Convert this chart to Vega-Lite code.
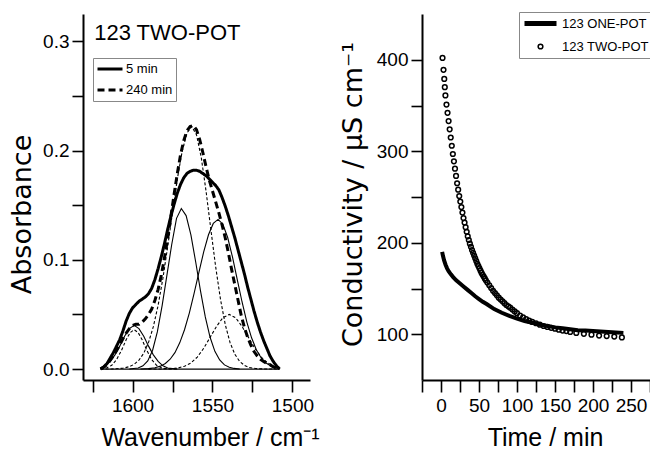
{
  "$schema": "https://vega.github.io/schema/vega-lite/v6.json",
  "background": "white",
  "padding": {"left": 8, "top": 11, "right": 0, "bottom": 0},
  "spacing": 112,
  "bounds": "flush",
  "config": {
    "view": {"stroke": null},
    "axis": {"grid": false, "domainColor": "black", "domainWidth": 2, "tickColor": "black", "tickWidth": 1.6, "labelColor": "black", "titleColor": "black", "labelFont": "Liberation Sans, Arial", "labelFontSize": 19, "titleFontWeight": "normal", "labelFlush": false, "labelOverlap": false},
    "legend": {"labelColor": "black", "labelFont": "Liberation Sans, Arial"}
  },
  "datasets": {
    "env": [
      {"t":"5 min","w":1620,"a":0},{"t":"5 min","w":1618,"a":0.002},{"t":"5 min","w":1616,"a":0.005},{"t":"5 min","w":1614,"a":0.010},{"t":"5 min","w":1612,"a":0.015},{"t":"5 min","w":1610,"a":0.021},{"t":"5 min","w":1608,"a":0.027},{"t":"5 min","w":1606,"a":0.035},{"t":"5 min","w":1604,"a":0.044},{"t":"5 min","w":1602,"a":0.051},{"t":"5 min","w":1600,"a":0.056},{"t":"5 min","w":1598,"a":0.059},{"t":"5 min","w":1596,"a":0.062},{"t":"5 min","w":1594,"a":0.064},{"t":"5 min","w":1592,"a":0.066},{"t":"5 min","w":1590,"a":0.069},{"t":"5 min","w":1588,"a":0.074},{"t":"5 min","w":1586,"a":0.082},{"t":"5 min","w":1584,"a":0.092},{"t":"5 min","w":1582,"a":0.103},{"t":"5 min","w":1580,"a":0.115},{"t":"5 min","w":1578,"a":0.128},{"t":"5 min","w":1576,"a":0.140},{"t":"5 min","w":1574,"a":0.151},{"t":"5 min","w":1572,"a":0.161},{"t":"5 min","w":1570,"a":0.169},{"t":"5 min","w":1568,"a":0.175},{"t":"5 min","w":1566,"a":0.179},{"t":"5 min","w":1564,"a":0.181},{"t":"5 min","w":1562,"a":0.182},{"t":"5 min","w":1560,"a":0.182},{"t":"5 min","w":1558,"a":0.181},{"t":"5 min","w":1556,"a":0.179},{"t":"5 min","w":1554,"a":0.177},{"t":"5 min","w":1552,"a":0.174},{"t":"5 min","w":1550,"a":0.171},{"t":"5 min","w":1548,"a":0.168},{"t":"5 min","w":1546,"a":0.164},{"t":"5 min","w":1544,"a":0.157},{"t":"5 min","w":1542,"a":0.149},{"t":"5 min","w":1540,"a":0.140},{"t":"5 min","w":1538,"a":0.130},{"t":"5 min","w":1536,"a":0.120},{"t":"5 min","w":1534,"a":0.109},{"t":"5 min","w":1532,"a":0.098},{"t":"5 min","w":1530,"a":0.087},{"t":"5 min","w":1528,"a":0.075},{"t":"5 min","w":1526,"a":0.064},{"t":"5 min","w":1524,"a":0.053},{"t":"5 min","w":1522,"a":0.043},{"t":"5 min","w":1520,"a":0.034},{"t":"5 min","w":1518,"a":0.026},{"t":"5 min","w":1516,"a":0.019},{"t":"5 min","w":1514,"a":0.012},{"t":"5 min","w":1512,"a":0.007},{"t":"5 min","w":1510,"a":0.003},{"t":"5 min","w":1508,"a":0},
      {"t":"240 min","w":1620,"a":0},{"t":"240 min","w":1618,"a":0.002},{"t":"240 min","w":1616,"a":0.004},{"t":"240 min","w":1614,"a":0.008},{"t":"240 min","w":1612,"a":0.012},{"t":"240 min","w":1610,"a":0.017},{"t":"240 min","w":1608,"a":0.022},{"t":"240 min","w":1606,"a":0.028},{"t":"240 min","w":1604,"a":0.033},{"t":"240 min","w":1602,"a":0.037},{"t":"240 min","w":1600,"a":0.040},{"t":"240 min","w":1598,"a":0.041},{"t":"240 min","w":1596,"a":0.041},{"t":"240 min","w":1594,"a":0.043},{"t":"240 min","w":1592,"a":0.046},{"t":"240 min","w":1590,"a":0.050},{"t":"240 min","w":1588,"a":0.055},{"t":"240 min","w":1586,"a":0.063},{"t":"240 min","w":1584,"a":0.073},{"t":"240 min","w":1582,"a":0.086},{"t":"240 min","w":1580,"a":0.102},{"t":"240 min","w":1578,"a":0.120},{"t":"240 min","w":1576,"a":0.140},{"t":"240 min","w":1574,"a":0.160},{"t":"240 min","w":1572,"a":0.179},{"t":"240 min","w":1570,"a":0.196},{"t":"240 min","w":1568,"a":0.209},{"t":"240 min","w":1566,"a":0.218},{"t":"240 min","w":1564,"a":0.222},{"t":"240 min","w":1562,"a":0.223},{"t":"240 min","w":1560,"a":0.219},{"t":"240 min","w":1558,"a":0.210},{"t":"240 min","w":1556,"a":0.198},{"t":"240 min","w":1554,"a":0.185},{"t":"240 min","w":1552,"a":0.173},{"t":"240 min","w":1550,"a":0.163},{"t":"240 min","w":1548,"a":0.153},{"t":"240 min","w":1546,"a":0.143},{"t":"240 min","w":1544,"a":0.132},{"t":"240 min","w":1542,"a":0.120},{"t":"240 min","w":1540,"a":0.106},{"t":"240 min","w":1538,"a":0.091},{"t":"240 min","w":1536,"a":0.077},{"t":"240 min","w":1534,"a":0.063},{"t":"240 min","w":1532,"a":0.049},{"t":"240 min","w":1530,"a":0.038},{"t":"240 min","w":1528,"a":0.029},{"t":"240 min","w":1526,"a":0.022},{"t":"240 min","w":1524,"a":0.016},{"t":"240 min","w":1522,"a":0.012},{"t":"240 min","w":1520,"a":0.009},{"t":"240 min","w":1518,"a":0.007},{"t":"240 min","w":1516,"a":0.005},{"t":"240 min","w":1514,"a":0.004},{"t":"240 min","w":1512,"a":0.002},{"t":"240 min","w":1510,"a":0.001},{"t":"240 min","w":1508,"a":0}
    ],
    "solid": [
      {"c":"base","w":1620,"a":0},{"c":"base","w":1508,"a":0},
      {"c":"s1","w":1620,"a":0.001},{"c":"s1","w":1617,"a":0.003},{"c":"s1","w":1614,"a":0.007},{"c":"s1","w":1611,"a":0.013},{"c":"s1","w":1608,"a":0.021},{"c":"s1","w":1605,"a":0.030},{"c":"s1","w":1602,"a":0.037},{"c":"s1","w":1599,"a":0.040},{"c":"s1","w":1596,"a":0.037},{"c":"s1","w":1593,"a":0.030},{"c":"s1","w":1590,"a":0.021},{"c":"s1","w":1587,"a":0.013},{"c":"s1","w":1584,"a":0.007},{"c":"s1","w":1581,"a":0.003},{"c":"s1","w":1578,"a":0.001},{"c":"s1","w":1572,"a":0},
      {"c":"s2","w":1602,"a":0},{"c":"s2","w":1596.5,"a":0.001},{"c":"s2","w":1593.5,"a":0.003},{"c":"s2","w":1590.5,"a":0.0075},{"c":"s2","w":1587.5,"a":0.017},{"c":"s2","w":1584.5,"a":0.034},{"c":"s2","w":1581.5,"a":0.058},{"c":"s2","w":1578.5,"a":0.086},{"c":"s2","w":1575.5,"a":0.114},{"c":"s2","w":1572.5,"a":0.138},{"c":"s2","w":1569.5,"a":0.147},{"c":"s2","w":1566.5,"a":0.1405},{"c":"s2","w":1563.5,"a":0.1228},{"c":"s2","w":1560.5,"a":0.098},{"c":"s2","w":1557.5,"a":0.0715},{"c":"s2","w":1554.5,"a":0.0477},{"c":"s2","w":1551.5,"a":0.0291},{"c":"s2","w":1548.5,"a":0.0162},{"c":"s2","w":1545.5,"a":0.0083},{"c":"s2","w":1542.5,"a":0.0038},{"c":"s2","w":1539.5,"a":0.0016},{"c":"s2","w":1536.5,"a":0.0006},{"c":"s2","w":1533,"a":0},
      {"c":"s3","w":1595,"a":0},{"c":"s3","w":1590,"a":0.0004},{"c":"s3","w":1586,"a":0.0012},{"c":"s3","w":1582.5,"a":0.0027},{"c":"s3","w":1579.5,"a":0.0051},{"c":"s3","w":1576.5,"a":0.009},{"c":"s3","w":1573.5,"a":0.015},{"c":"s3","w":1570.5,"a":0.024},{"c":"s3","w":1567.5,"a":0.036},{"c":"s3","w":1564.5,"a":0.0513},{"c":"s3","w":1561.5,"a":0.0693},{"c":"s3","w":1558.5,"a":0.0886},{"c":"s3","w":1555.5,"a":0.1072},{"c":"s3","w":1552.5,"a":0.1229},{"c":"s3","w":1549.5,"a":0.1333},{"c":"s3","w":1546.5,"a":0.137},{"c":"s3","w":1543.5,"a":0.1326},{"c":"s3","w":1540.5,"a":0.1204},{"c":"s3","w":1537.5,"a":0.1026},{"c":"s3","w":1534.5,"a":0.0819},{"c":"s3","w":1531.5,"a":0.0614},{"c":"s3","w":1528.5,"a":0.043},{"c":"s3","w":1525.5,"a":0.0284},{"c":"s3","w":1522.5,"a":0.0175},{"c":"s3","w":1519.5,"a":0.0101},{"c":"s3","w":1516.5,"a":0.0055},{"c":"s3","w":1513.5,"a":0.0028},{"c":"s3","w":1510.5,"a":0.0013},{"c":"s3","w":1508,"a":0.0006}
    ],
    "dashed": [
      {"c":"d1","w":1620,"a":0.0002},{"c":"d1","w":1616,"a":0.0012},{"c":"d1","w":1613,"a":0.0035},{"c":"d1","w":1610,"a":0.0086},{"c":"d1","w":1607,"a":0.0169},{"c":"d1","w":1604,"a":0.0268},{"c":"d1","w":1601.5,"a":0.0334},{"c":"d1","w":1599,"a":0.036},{"c":"d1","w":1596.5,"a":0.0334},{"c":"d1","w":1594,"a":0.0268},{"c":"d1","w":1591,"a":0.0169},{"c":"d1","w":1588,"a":0.0086},{"c":"d1","w":1585,"a":0.0035},{"c":"d1","w":1582,"a":0.0012},{"c":"d1","w":1578,"a":0.0002},{"c":"d1","w":1572,"a":0},
      {"c":"d2","w":1620,"a":0},{"c":"d2","w":1613,"a":0.0001},{"c":"d2","w":1606,"a":0.0008},{"c":"d2","w":1602,"a":0.0022},{"c":"d2","w":1599,"a":0.0044},{"c":"d2","w":1596,"a":0.0082},{"c":"d2","w":1593,"a":0.0145},{"c":"d2","w":1590,"a":0.0244},{"c":"d2","w":1587,"a":0.0388},{"c":"d2","w":1584,"a":0.0584},{"c":"d2","w":1581,"a":0.0832},{"c":"d2","w":1578,"a":0.1123},{"c":"d2","w":1575,"a":0.1435},{"c":"d2","w":1572,"a":0.174},{"c":"d2","w":1569,"a":0.199},{"c":"d2","w":1566,"a":0.216},{"c":"d2","w":1563,"a":0.222},{"c":"d2","w":1560,"a":0.2145},{"c":"d2","w":1557,"a":0.1934},{"c":"d2","w":1554,"a":0.1626},{"c":"d2","w":1551,"a":0.1276},{"c":"d2","w":1548,"a":0.0935},{"c":"d2","w":1545,"a":0.0639},{"c":"d2","w":1542,"a":0.0407},{"c":"d2","w":1539,"a":0.0242},{"c":"d2","w":1536,"a":0.0135},{"c":"d2","w":1533,"a":0.007},{"c":"d2","w":1530,"a":0.0034},{"c":"d2","w":1527,"a":0.0015},{"c":"d2","w":1523,"a":0.0005},{"c":"d2","w":1518,"a":0.0001},{"c":"d2","w":1508,"a":0},
      {"c":"d3","w":1590,"a":0},{"c":"d3","w":1582,"a":0.0001},{"c":"d3","w":1575.5,"a":0.0004},{"c":"d3","w":1571.5,"a":0.001},{"c":"d3","w":1567.5,"a":0.0026},{"c":"d3","w":1563.5,"a":0.0056},{"c":"d3","w":1559.5,"a":0.011},{"c":"d3","w":1555.5,"a":0.019},{"c":"d3","w":1551.5,"a":0.029},{"c":"d3","w":1547.5,"a":0.039},{"c":"d3","w":1543.5,"a":0.047},{"c":"d3","w":1539.5,"a":0.05},{"c":"d3","w":1535.5,"a":0.047},{"c":"d3","w":1531.5,"a":0.039},{"c":"d3","w":1527.5,"a":0.029},{"c":"d3","w":1523.5,"a":0.019},{"c":"d3","w":1519.5,"a":0.011},{"c":"d3","w":1515.5,"a":0.0056},{"c":"d3","w":1511.5,"a":0.0026},{"c":"d3","w":1508,"a":0.0012}
    ],
    "one": [
      {"s":"123 ONE-POT","t":1.5,"v":190},{"s":"123 ONE-POT","t":2.5,"v":186},{"s":"123 ONE-POT","t":4,"v":181},{"s":"123 ONE-POT","t":6,"v":176},{"s":"123 ONE-POT","t":8,"v":172},{"s":"123 ONE-POT","t":10,"v":169},{"s":"123 ONE-POT","t":13,"v":165.5},{"s":"123 ONE-POT","t":16,"v":162.5},{"s":"123 ONE-POT","t":20,"v":159},{"s":"123 ONE-POT","t":25,"v":155.5},{"s":"123 ONE-POT","t":30,"v":152},{"s":"123 ONE-POT","t":35,"v":148.5},{"s":"123 ONE-POT","t":40,"v":145},{"s":"123 ONE-POT","t":45,"v":141.5},{"s":"123 ONE-POT","t":50,"v":138.5},{"s":"123 ONE-POT","t":55,"v":135.5},{"s":"123 ONE-POT","t":60,"v":133},{"s":"123 ONE-POT","t":70,"v":127.5},{"s":"123 ONE-POT","t":80,"v":123.5},{"s":"123 ONE-POT","t":90,"v":120},{"s":"123 ONE-POT","t":100,"v":117},{"s":"123 ONE-POT","t":110,"v":114.5},{"s":"123 ONE-POT","t":120,"v":112.5},{"s":"123 ONE-POT","t":130,"v":110.5},{"s":"123 ONE-POT","t":140,"v":109},{"s":"123 ONE-POT","t":150,"v":107.5},{"s":"123 ONE-POT","t":160,"v":106.5},{"s":"123 ONE-POT","t":170,"v":105.5},{"s":"123 ONE-POT","t":180,"v":104.5},{"s":"123 ONE-POT","t":190,"v":104},{"s":"123 ONE-POT","t":200,"v":103.5},{"s":"123 ONE-POT","t":210,"v":103},{"s":"123 ONE-POT","t":220,"v":102.5},{"s":"123 ONE-POT","t":230,"v":102},{"s":"123 ONE-POT","t":240,"v":101.5}
    ],
    "two": [
      {"s":"123 TWO-POT","t":2,"v":402},{"s":"123 TWO-POT","t":3.3,"v":389},{"s":"123 TWO-POT","t":4.3,"v":379},{"s":"123 TWO-POT","t":5,"v":370},{"s":"123 TWO-POT","t":5.8,"v":361},{"s":"123 TWO-POT","t":7.2,"v":351},{"s":"123 TWO-POT","t":8.6,"v":342},{"s":"123 TWO-POT","t":10,"v":333},{"s":"123 TWO-POT","t":11.4,"v":324},{"s":"123 TWO-POT","t":12.8,"v":315},{"s":"123 TWO-POT","t":14.2,"v":306},{"s":"123 TWO-POT","t":15.6,"v":297},{"s":"123 TWO-POT","t":17,"v":289},{"s":"123 TWO-POT","t":18.4,"v":281},{"s":"123 TWO-POT","t":19.8,"v":273},{"s":"123 TWO-POT","t":21.2,"v":265},{"s":"123 TWO-POT","t":22.6,"v":258},{"s":"123 TWO-POT","t":24,"v":251},{"s":"123 TWO-POT","t":25.4,"v":245},{"s":"123 TWO-POT","t":26.8,"v":239},{"s":"123 TWO-POT","t":28.2,"v":233},{"s":"123 TWO-POT","t":29.6,"v":227},{"s":"123 TWO-POT","t":31,"v":222},{"s":"123 TWO-POT","t":32.4,"v":217},{"s":"123 TWO-POT","t":33.8,"v":212},{"s":"123 TWO-POT","t":35.2,"v":207},{"s":"123 TWO-POT","t":36.6,"v":203},{"s":"123 TWO-POT","t":38,"v":199},{"s":"123 TWO-POT","t":39.4,"v":195.5},{"s":"123 TWO-POT","t":40.8,"v":192},{"s":"123 TWO-POT","t":42.2,"v":189},{"s":"123 TWO-POT","t":43.6,"v":186},{"s":"123 TWO-POT","t":45,"v":183},{"s":"123 TWO-POT","t":46.4,"v":180},{"s":"123 TWO-POT","t":47.8,"v":177},{"s":"123 TWO-POT","t":49.2,"v":174.5},{"s":"123 TWO-POT","t":50.6,"v":172},{"s":"123 TWO-POT","t":52,"v":169.5},{"s":"123 TWO-POT","t":53.4,"v":167},{"s":"123 TWO-POT","t":54.8,"v":165},{"s":"123 TWO-POT","t":56.2,"v":163},{"s":"123 TWO-POT","t":57.6,"v":161},{"s":"123 TWO-POT","t":59,"v":159},{"s":"123 TWO-POT","t":61,"v":156.5},{"s":"123 TWO-POT","t":63.5,"v":153.5},{"s":"123 TWO-POT","t":66,"v":150.5},{"s":"123 TWO-POT","t":68.5,"v":147.5},{"s":"123 TWO-POT","t":71,"v":145},{"s":"123 TWO-POT","t":73.5,"v":142.5},{"s":"123 TWO-POT","t":76,"v":140},{"s":"123 TWO-POT","t":78.5,"v":138},{"s":"123 TWO-POT","t":81,"v":136},{"s":"123 TWO-POT","t":83.5,"v":134},{"s":"123 TWO-POT","t":86,"v":132},{"s":"123 TWO-POT","t":88.5,"v":130.5},{"s":"123 TWO-POT","t":91,"v":129},{"s":"123 TWO-POT","t":94,"v":127},{"s":"123 TWO-POT","t":97,"v":125},{"s":"123 TWO-POT","t":100,"v":123},{"s":"123 TWO-POT","t":104,"v":120.5},{"s":"123 TWO-POT","t":108,"v":118.5},{"s":"123 TWO-POT","t":112,"v":116.5},{"s":"123 TWO-POT","t":116,"v":115},{"s":"123 TWO-POT","t":120,"v":113.5},{"s":"123 TWO-POT","t":125,"v":112},{"s":"123 TWO-POT","t":130,"v":110.5},{"s":"123 TWO-POT","t":135,"v":109},{"s":"123 TWO-POT","t":140,"v":108},{"s":"123 TWO-POT","t":145,"v":107},{"s":"123 TWO-POT","t":150,"v":106},{"s":"123 TWO-POT","t":155,"v":105},{"s":"123 TWO-POT","t":160,"v":104},{"s":"123 TWO-POT","t":165,"v":103.5},{"s":"123 TWO-POT","t":170,"v":102.5},{"s":"123 TWO-POT","t":178,"v":101.5},{"s":"123 TWO-POT","t":188,"v":100.5},{"s":"123 TWO-POT","t":198,"v":99.5},{"s":"123 TWO-POT","t":208,"v":98.5},{"s":"123 TWO-POT","t":218,"v":98},{"s":"123 TWO-POT","t":228,"v":97.5},{"s":"123 TWO-POT","t":238,"v":96.5}
    ],
    "label": [{"w":1624,"a":0.301,"txt":"123 TWO-POT"}]
  },
  "hconcat": [
    {
      "width": 227,
      "height": 366,
      "encoding": {
        "x": {"field": "w", "type": "quantitative", "scale": {"domain": [1631, 1489], "nice": false, "zero": false},
          "axis": {"values": [1625, 1600, 1575, 1550, 1525, 1500], "format": "d", "labelExpr": "datum.value % 50 === 0 ? datum.label : ''", "tickSize": 12, "labelPadding": 4,
            "title": "Wavenumber / cm⁻¹", "titleFont": "Liberation Sans, Arial", "titleFontSize": 25, "titleX": 127, "titleY": 65, "titleBaseline": "alphabetic", "titleAlign": "center",
            "encode": {"ticks": {"y2": {"value": {"expr": "datum.value % 50 === 0 ? 12 : 7"}}}}}},
        "y": {"field": "a", "type": "quantitative", "scale": {"domain": [-0.01, 0.325], "nice": false, "zero": false},
          "axis": {"values": [0, 0.05, 0.1, 0.15, 0.2, 0.25, 0.3], "labelExpr": "abs(datum.value*10 - round(datum.value*10)) < 0.001 ? format(datum.value, '.1f') : ''", "tickSize": 11, "labelPadding": 3,
            "title": "Absorbance", "titleFont": "DejaVu Sans", "titleFontSize": 27, "titleX": -53, "titleY": 200, "titleBaseline": "alphabetic", "titleAlign": "center",
            "encode": {"ticks": {"x2": {"value": {"expr": "abs(datum.value*10 - round(datum.value*10)) < 0.001 ? -11 : -6"}}}}}}
      },
      "layer": [
        {"data": {"name": "solid"}, "mark": {"type": "line", "color": "black", "strokeWidth": 1.1},
          "encoding": {"detail": {"field": "c", "type": "nominal"}}},
        {"data": {"name": "dashed"}, "mark": {"type": "line", "color": "black", "strokeWidth": 1.1, "strokeDash": [3, 2]},
          "encoding": {"detail": {"field": "c", "type": "nominal"}}},
        {"data": {"name": "env"}, "mark": {"type": "line", "color": "black", "strokeWidth": 3},
          "encoding": {"strokeDash": {"field": "t", "type": "nominal", "scale": {"domain": ["5 min", "240 min"], "range": [[1, 0], [7, 4]]},
            "legend": {"orient": "none", "legendX": 10, "legendY": 44, "title": null, "strokeColor": "#888", "fillColor": "white", "padding": 3, "symbolType": "stroke", "symbolSize": 625, "symbolStrokeWidth": 3, "symbolStrokeColor": "black", "labelFontSize": 13, "labelOffset": 2, "clipHeight": 16, "rowPadding": 5}}}},
        {"data": {"name": "label"}, "mark": {"type": "text", "align": "left", "baseline": "alphabetic", "font": "Liberation Sans, Arial", "fontSize": 22, "color": "black"},
          "encoding": {"text": {"field": "txt", "type": "nominal"}}}
      ]
    },
    {
      "width": 228,
      "height": 366,
      "encoding": {
        "x": {"field": "t", "type": "quantitative", "scale": {"domain": [-25, 275], "nice": false, "zero": false},
          "axis": {"values": [-25, 0, 25, 50, 75, 100, 125, 150, 175, 200, 225, 250, 275], "labelExpr": "datum.value % 50 === 0 ? datum.label : ''", "tickSize": 12, "labelPadding": 4,
            "title": "Time / min", "titleFont": "Liberation Sans, Arial", "titleFontSize": 25, "titleX": 123, "titleY": 65, "titleBaseline": "alphabetic", "titleAlign": "center",
            "encode": {"ticks": {"y2": {"value": {"expr": "datum.value % 50 === 0 ? 12 : 7"}}}}}},
        "y": {"field": "v", "type": "quantitative", "scale": {"domain": [50, 450], "nice": false, "zero": false},
          "axis": {"values": [100, 150, 200, 250, 300, 350, 400], "labelExpr": "datum.value % 100 === 0 ? datum.label : ''", "tickSize": 11, "labelPadding": 3,
            "title": "Conductivity / μS cm⁻¹", "titleFont": "DejaVu Sans", "titleFontSize": 27, "titleX": -61, "titleY": 180, "titleBaseline": "alphabetic", "titleAlign": "center",
            "encode": {"ticks": {"x2": {"value": {"expr": "datum.value % 100 === 0 ? -11 : -6"}}}}}}
      },
      "layer": [
        {"data": {"name": "one"}, "mark": {"type": "line", "color": "black", "strokeWidth": 4}},
        {"data": {"name": "two"}, "mark": {"type": "point", "filled": false, "color": "black", "opacity": 1},
          "encoding": {
            "shape": {"field": "s", "type": "nominal", "scale": {"domain": ["123 ONE-POT", "123 TWO-POT"], "range": ["stroke", "circle"]},
              "legend": {"orient": "none", "legendX": 436, "legendY": -2, "title": null, "strokeColor": "#888", "fillColor": "white", "padding": 3, "symbolStrokeColor": "black", "labelFontSize": 13, "labelOffset": 3, "clipHeight": 17, "rowPadding": 6}},
            "size": {"field": "s", "type": "nominal", "scale": {"domain": ["123 ONE-POT", "123 TWO-POT"], "range": [1024, 22]},
              "legend": {"orient": "none", "legendX": 436, "legendY": -2, "title": null, "strokeColor": "#888", "fillColor": "white", "padding": 3, "symbolStrokeColor": "black", "labelFontSize": 13, "labelOffset": 3, "clipHeight": 17, "rowPadding": 6}},
            "strokeWidth": {"field": "s", "type": "nominal", "scale": {"domain": ["123 ONE-POT", "123 TWO-POT"], "range": [5, 1.5]},
              "legend": {"orient": "none", "legendX": 436, "legendY": -2, "title": null, "strokeColor": "#888", "fillColor": "white", "padding": 3, "symbolStrokeColor": "black", "labelFontSize": 13, "labelOffset": 3, "clipHeight": 17, "rowPadding": 6}}
          }}
      ]
    }
  ]
}
